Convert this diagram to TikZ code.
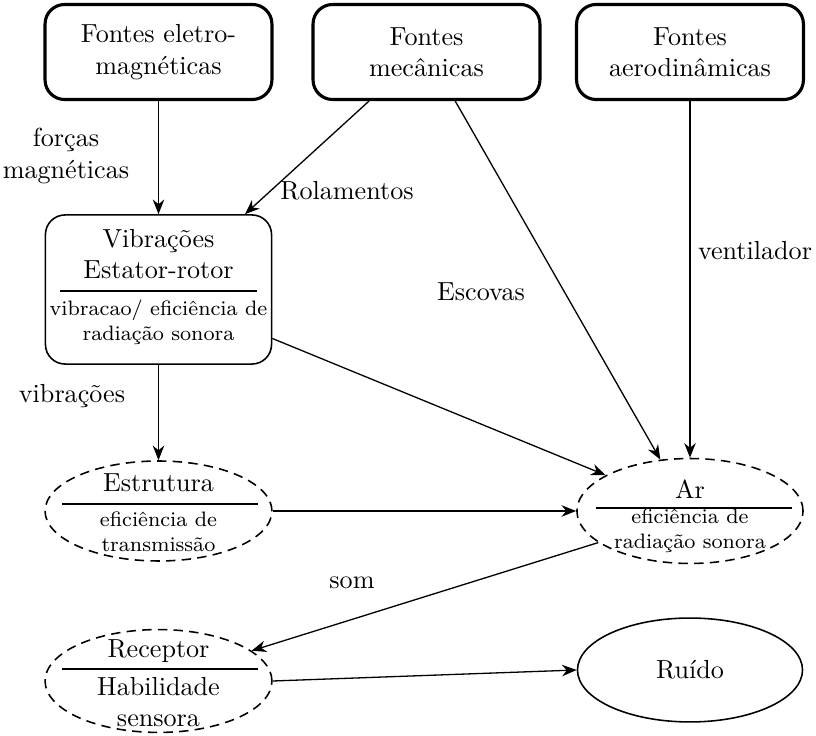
\documentclass[tikz,border=0pt]{standalone}
\usetikzlibrary{shapes.geometric,arrows.meta,calc}
\begin{document}
\begin{tikzpicture}[x=0.383pt,y=-0.383pt,
  src/.style={draw,line width=1.2pt,rounded corners=7.5pt,minimum width=86.9pt,minimum height=36.4pt,align=center,inner sep=0pt},
  vibbox/.style={draw,line width=0.6pt,rounded corners=7.5pt,minimum width=86.6pt,minimum height=57.1pt,inner sep=0pt},
  dell/.style={draw,ellipse,line width=0.6pt,dash pattern=on 3.6pt off 2.4pt,inner sep=0pt},
  sell/.style={draw,ellipse,line width=0.6pt,inner sep=0pt},
  txt/.style={align=center,inner sep=0pt},
  sml/.style={align=center,inner sep=0pt,font=\footnotesize},
  rul/.style={line width=0.4pt},
  arr/.style={-{Stealth[length=5.6pt,width=4.4pt,inset=1.8pt]},line width=0.5pt}
]
\useasboundingbox (0,0) rectangle (816,736);

% sources
\node[src] (eletro) at (158.5,52) {Fontes eletro-\\magnéticas};
\node[src] (mec) at (426.5,52) {Fontes\\mecânicas};
\node[src] (aero) at (690,52) {Fontes\\aerodinâmicas};

% vibrations box
\node[vibbox] (vib) at (158.5,289.5) {};
\node[txt] (vibt) at (158.5,254) {Vibrações\\Estator-rotor};
\draw[rul] (60,291) -- (257,291);
\node[sml] (vibs) at (158.5,322) {vibracao/ eficiência de\\radiação sonora};

% estrutura
\node[dell,minimum width=86.9pt,minimum height=38.3pt] (est) at (158.5,511) {};
\node[txt,anchor=base] (estt) at (158.5,492) {Estrutura};
\draw[rul] (62,504) -- (258,504);
\node[sml] (ests) at (158.5,532) {eficiência de\\transmissão};

% ar
\node[dell,minimum width=86.6pt,minimum height=40.2pt] (ar) at (690,511) {};
\node[txt,anchor=base] (art) at (690,499) {Ar};
\draw[rul] (596,508) -- (792,508);
\node[sml] (ars) at (690,531) {eficiência de\\radiação sonora};

% receptor
\node[dell,minimum width=86.9pt,minimum height=39.4pt] (rec) at (158.5,681) {};
\node[txt,anchor=base] (rect) at (158.5,658) {Receptor};
\draw[rul] (62,669) -- (258,669);
\node[txt] (recs) at (158.5,702) {Habilidade\\sensora};

% ruido
\node[sell,minimum width=86.2pt,minimum height=39.8pt] (ruido) at (690,670) {Ruído};

% connectors
\draw[arr] (eletro.south) -- (vib.north);
\draw[arr] ($(mec.south west)!0.25!(mec.south east)$) -- ($(vib.north west)!0.88!(vib.north east)$);
\draw[arr] ($(mec.south west)!0.625!(mec.south east)$) -- (ar.120);
\draw[arr] (aero.south) -- (ar.north);
\draw[arr] ($(vib.south east)!0.175!(vib.north east)$) -- (ar.157);
\draw[arr] (vib.south) -- (est.north);
\draw[arr] (est.east) -- (ar.west);
\draw[arr] (ar.199) -- (rec.18);
\draw[arr] (rec.east) -- (ruido.west);

% labels
\node[txt] (lforcas) at (66,156) {forças\\magnéticas};
\node[txt] (lrol) at (347,191) {Rolamentos};
\node[txt] (lesc) at (481,292) {Escovas};
\node[txt] (lvent) at (755,251) {ventilador};
\node[txt] (lvib) at (72,396) {vibrações};
\node[txt] (lsom) at (352,583) {som};
\end{tikzpicture}
\end{document}
